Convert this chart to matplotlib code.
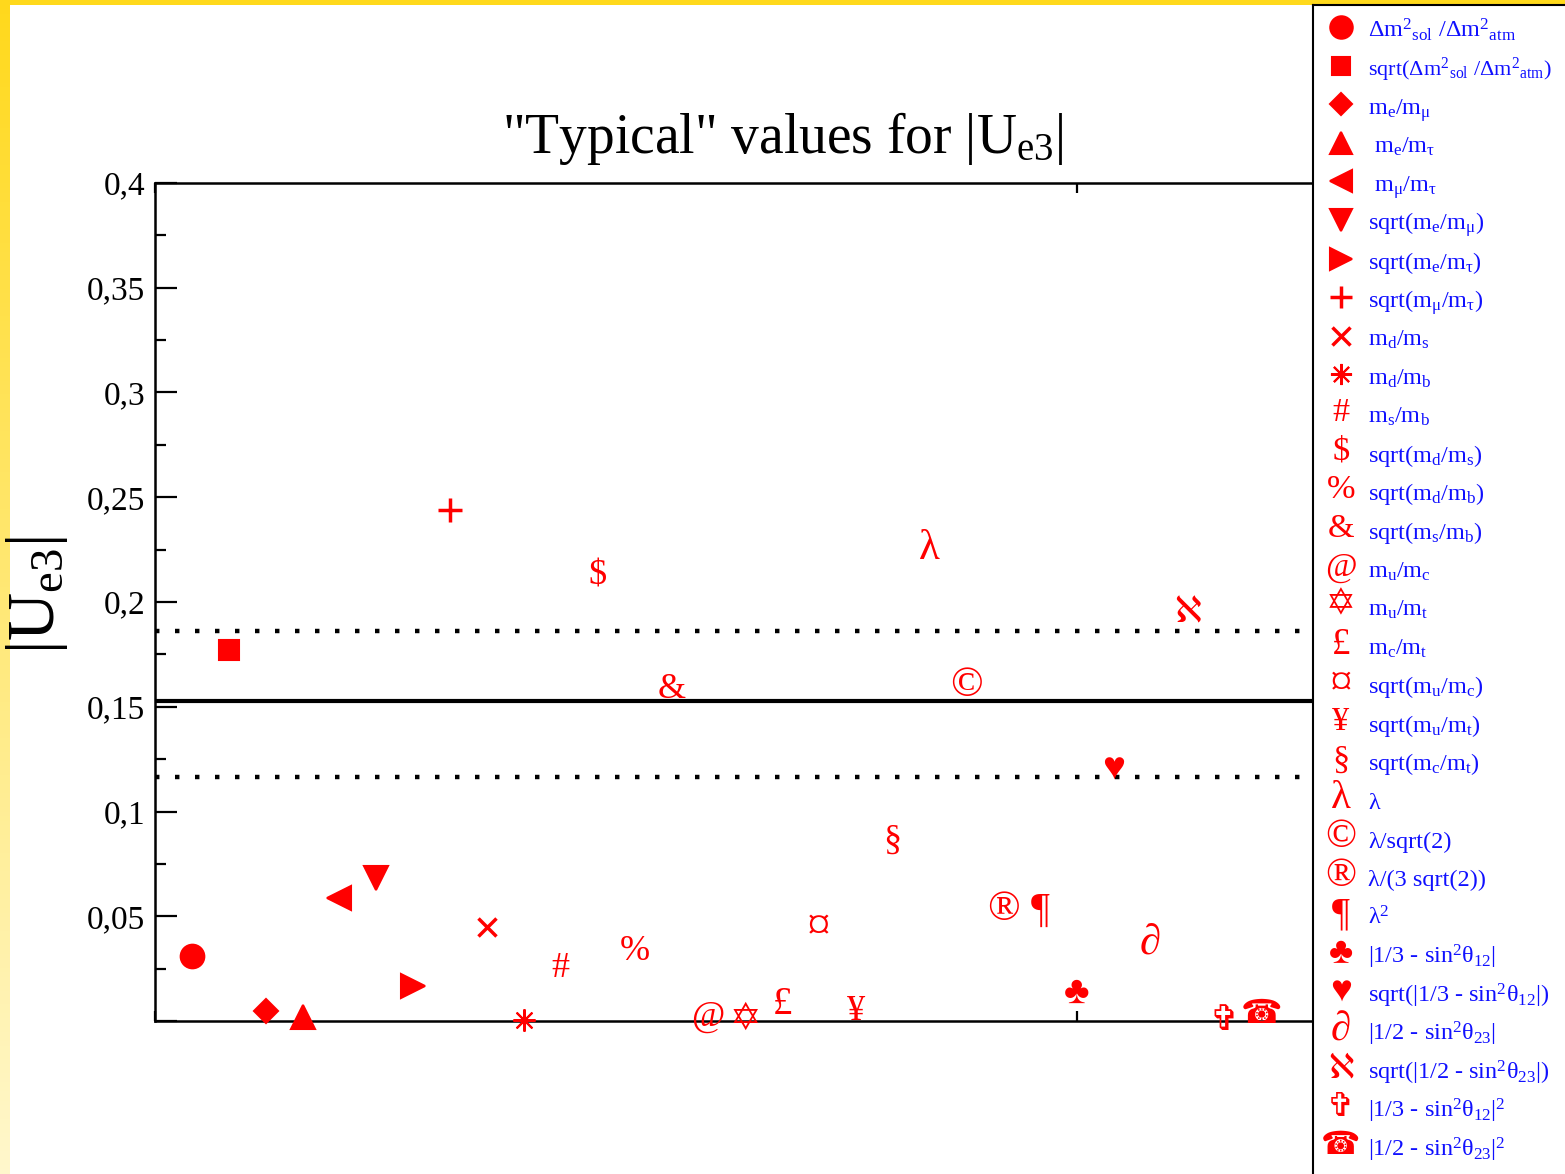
import numpy as np
import matplotlib
matplotlib.use("Agg")
import matplotlib.pyplot as plt
from matplotlib.ticker import MultipleLocator, FuncFormatter

plt.rcParams['font.family'] = ['Liberation Serif', 'DejaVu Sans']
plt.rcParams['mathtext.fontset'] = 'custom'
plt.rcParams['mathtext.rm'] = 'Liberation Serif'
plt.rcParams['mathtext.it'] = 'Liberation Serif'
plt.rcParams['mathtext.default'] = 'rm'

W, H = 1565, 1174

# symbols: first ten are plain markers, the rest are characters
symbols = ['o', 's', 'D', '^', '<', 'v', '>', '+', 'x', (8, 2, 0),
           '#', '$', '%', '&', '@', '\u2721', '\u00a3', '\u00a4', '\u00a5', '\u00a7',
           '\u03bb', '\u00a9', '\u00ae', '\u00b6', '\u2663', '\u2665', '\u2202', '\u2135',
           '\u271e', '\u260e']

labels = [
    r'Δm$^{2}{}_{sol}$ /Δm$^{2}{}_{atm}$',
    r'sqrt(Δm$^{2}{}_{sol}$ /Δm$^{2}{}_{atm}$)',
    r'm$_{e}$/m$_{μ}$',
    r' m$_{e}$/m$_{τ}$',
    r' m$_{μ}$/m$_{τ}$',
    r'sqrt(m$_{e}$/m$_{μ}$)',
    r'sqrt(m$_{e}$/m$_{τ}$)',
    r'sqrt(m$_{μ}$/m$_{τ}$)',
    r'm$_{d}$/m$_{s}$',
    r'm$_{d}$/m$_{b}$',
    r'm$_{s}$/m$_{b}$',
    r'sqrt(m$_{d}$/m$_{s}$)',
    r'sqrt(m$_{d}$/m$_{b}$)',
    r'sqrt(m$_{s}$/m$_{b}$)',
    r'm$_{u}$/m$_{c}$',
    r'm$_{u}$/m$_{t}$',
    r'm$_{c}$/m$_{t}$',
    r'sqrt(m$_{u}$/m$_{c}$)',
    r'sqrt(m$_{u}$/m$_{t}$)',
    r'sqrt(m$_{c}$/m$_{t}$)',
    'λ',
    'λ/sqrt(2)',
    'λ/(3 sqrt(2))',
    r'λ$^{2}$',
    r'|1/3 - sin$^{2}$θ$_{12}$|',
    r'sqrt(|1/3 - sin$^{2}$θ$_{12}$|)',
    r'|1/2 - sin$^{2}$θ$_{23}$|',
    r'sqrt(|1/2 - sin$^{2}$θ$_{23}$|)',
    r'|1/3 - sin$^{2}$θ$_{12}$|$^{2}$',
    r'|1/2 - sin$^{2}$θ$_{23}$|$^{2}$',
]

ue3_values = [0.0310, 0.1771, 0.0049, 0.0019, 0.0589, 0.0683, 0.0168, 0.2439, 0.0450, 0.0005,
              0.0252, 0.2124, 0.0331, 0.1580, 0.0020, 0.0000, 0.0081, 0.0439, 0.0043, 0.0864,
              0.2253, 0.1600, 0.0530, 0.0520, 0.0134, 0.1200, 0.0372, 0.1943, 0.0000, 0.0029]

central_value = 0.1527
band_values = [0.1861, 0.1165]

RED = '#ff0000'
BLUE = '#1010ff'

shape_sizes = {'o': 17, 's': 14, 'D': 12, '^': 17, '<': 17, 'v': 17, '>': 17, '+': 17, 'x': 13}
glyph_sizes = {'\u2721': 27, '\u2663': 28, '\u2665': 28, '\u2135': 26, '\u271e': 25,
               '\u260e': 24, '\u00a4': 34, '\u03bb': 31, '\u2202': 31, '\u00a9': 31,
               '\u00ae': 31, '\u00b6': 30, '\u00a3': 28}


def draw_symbol(ax, sym, x, y, scale=1.0):
    if isinstance(sym, tuple) or len(sym) == 1 and sym in shape_sizes:
        ms = shape_sizes.get(sym, 16) if not isinstance(sym, tuple) else 16
        mew = 2.5 if sym in ('+', 'x') else 1.5
        ax.plot([x], [y], marker=sym, color=RED, markersize=ms * scale,
                markeredgewidth=mew, linestyle='none', clip_on=False, zorder=5)
    else:
        fs = glyph_sizes.get(sym, 26) * scale
        ax.text(x, y, sym, color=RED, fontsize=fs, ha='center', va='center',
                family=['Liberation Serif', 'DejaVu Sans'], zorder=5)


fig = plt.figure(figsize=(W / 100, H / 100), dpi=100, facecolor='white')

# yellow frame: flat band on top, fading band on the left
top_band = fig.add_axes([0, 1 - 5 / H, 1, 5 / H])
top_band.set_axis_off()
top_band.add_patch(plt.Rectangle((0, 0), 1, 1, color='#ffd91c', transform=top_band.transAxes))
left_band = fig.add_axes([0, 0, 10 / W, 1])
grad = np.linspace(0, 1, 256).reshape(-1, 1)
top_rgb = np.array([1.0, 0.85, 0.11])
bot_rgb = np.array([1.0, 0.97, 0.80])
img = top_rgb[None, None, :] * (1 - grad[:, :, None]) + bot_rgb[None, None, :] * grad[:, :, None]
left_band.imshow(img, aspect='auto', extent=(0, 1, 0, 1), origin='upper')
left_band.set_axis_off()

ax = fig.add_axes([155 / W, 1 - 1021 / H, (1313 - 155) / W, (1021 - 183) / H])
ax.set_xlim(0, 31.4)
ax.set_ylim(0, 0.4)

ax.axhline(central_value, color='black', linewidth=3.0, zorder=2)
for v in band_values:
    ax.axhline(v, color='black', linewidth=3.2, linestyle=(0, (1, 3.5)),
               dash_capstyle='butt', zorder=2)

for i, (sym, val) in enumerate(zip(symbols, ue3_values)):
    draw_symbol(ax, sym, i + 1, val)

ax.yaxis.set_major_locator(MultipleLocator(0.05))
ax.yaxis.set_minor_locator(MultipleLocator(0.025))
ax.yaxis.set_major_formatter(FuncFormatter(
    lambda v, p: '' if abs(v) < 1e-9 else ('%g' % round(v, 3)).replace('.', ',')))
ax.xaxis.set_major_locator(MultipleLocator(25))
ax.xaxis.set_major_formatter(FuncFormatter(lambda v, p: ''))
ax.tick_params(axis='y', which='major', direction='in', length=16, width=1.6,
               labelsize=24, pad=7, right=False)
ax.tick_params(axis='y', which='minor', direction='in', length=8, width=1.6, right=False)
ax.tick_params(axis='x', which='major', direction='in', length=7, width=1.6, top=True)
for s in ax.spines.values():
    s.set_linewidth(1.8)

fig.text(0.5, 1 - 153 / H, '"Typical" values for |U$_{e3}$|', fontsize=40,
         ha='center', va='baseline')
fig.text(37 / W, 1 - 595 / H, '|U$_{e3}$|', fontsize=48, rotation=90,
         ha='center', va='center')

# legend panel on the right
leg = fig.add_axes([1313 / W, 0, 1 - 1313 / W, (H - 5) / H])
leg.set_xlim(1313, W)
leg.set_ylim(H, 5)
leg.set_xticks([])
leg.set_yticks([])
leg.spines['right'].set_visible(False)
leg.spines['bottom'].set_visible(False)
leg.spines['left'].set_linewidth(1.5)
leg.spines['top'].set_linewidth(1.5)
row0, row_step = 27, 38.6
for i, (sym, lab) in enumerate(zip(symbols, labels)):
    y = row0 + i * row_step
    draw_symbol(leg, sym, 1341, y, scale=0.95)
    fs = 16 if len(lab) > 35 else 17.5
    leg.text(1368, y + 10, lab, color=BLUE, fontsize=fs, ha='left', va='baseline')

fig.savefig('out.png', dpi=100, facecolor='white')
